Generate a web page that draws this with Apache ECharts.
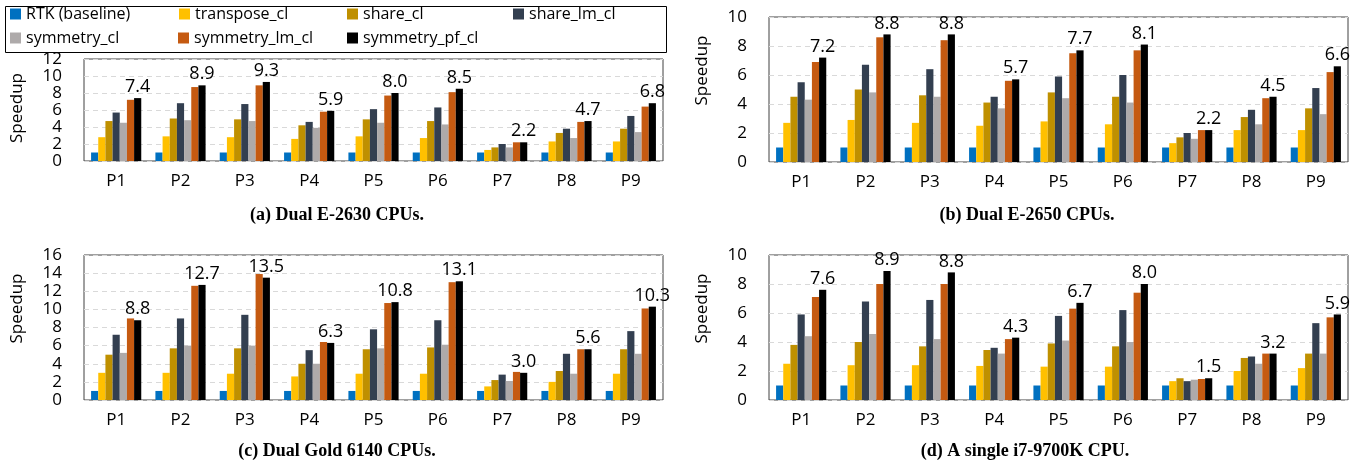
<!DOCTYPE html>
<html>
<head>
<meta charset="utf-8">
<title>Speedup</title>
<script src="https://cdn.jsdelivr.net/npm/echarts@6/dist/echarts.min.js"></script>
<style>
  html, body { margin: 0; padding: 0; background: #fff; }
  #chart { width: 1372px; height: 471px; }
</style>
</head>
<body>
<div id="chart"></div>
<script>
const categories = ['P1', 'P2', 'P3', 'P4', 'P5', 'P6', 'P7', 'P8', 'P9'];
const seriesNames = ['RTK (baseline)', 'transpose_cl', 'share_cl', 'share_lm_cl', 'symmetry_cl', 'symmetry_lm_cl', 'symmetry_pf_cl'];
const colors = ['#0070c0', '#ffc000', '#bf9000', '#333f50', '#aeaaaa', '#c55a11', '#000000'];

// rows follow seriesNames order
// (a) Dual E-2630
const speedupE2630 = [
  [1, 1, 1, 1, 1, 1, 1, 1, 1],
  [2.8, 2.9, 2.8, 2.6, 2.9, 2.7, 1.3, 2.3, 2.3],
  [4.7, 5.0, 4.9, 4.2, 4.9, 4.7, 1.6, 3.3, 3.8],
  [5.7, 6.8, 6.7, 4.6, 6.1, 6.3, 2.0, 3.8, 5.3],
  [4.5, 4.8, 4.7, 3.9, 4.5, 4.3, 1.6, 2.7, 3.4],
  [7.2, 8.7, 8.9, 5.8, 7.7, 8.1, 2.2, 4.6, 6.4],
  [7.4, 8.9, 9.3, 5.9, 8.0, 8.5, 2.2, 4.7, 6.8]
];
// (b) Dual E-2650
const speedupE2650 = [
  [1, 1, 1, 1, 1, 1, 1, 1, 1],
  [2.7, 2.9, 2.7, 2.5, 2.8, 2.6, 1.3, 2.2, 2.2],
  [4.5, 5.0, 4.6, 4.1, 4.8, 4.5, 1.7, 3.1, 3.7],
  [5.5, 6.7, 6.4, 4.5, 5.9, 6.0, 2.0, 3.6, 5.1],
  [4.3, 4.8, 4.5, 3.7, 4.4, 4.1, 1.6, 2.6, 3.3],
  [6.9, 8.6, 8.4, 5.6, 7.5, 7.7, 2.2, 4.4, 6.2],
  [7.2, 8.8, 8.8, 5.7, 7.7, 8.1, 2.2, 4.5, 6.6]
];
// (c) Dual Gold 6140
const speedupGold6140 = [
  [1, 1, 1, 1, 1, 1, 1, 1, 1],
  [3.0, 3.0, 2.9, 2.6, 2.9, 2.9, 1.5, 2.0, 2.9],
  [5.0, 5.7, 5.7, 4.0, 5.6, 5.8, 2.2, 3.2, 5.6],
  [7.2, 9.0, 9.4, 5.5, 7.8, 8.8, 2.8, 5.1, 7.6],
  [5.2, 6.0, 6.0, 4.0, 5.7, 6.1, 2.1, 2.9, 5.1],
  [9.0, 12.6, 13.9, 6.4, 10.7, 13.0, 3.1, 5.6, 10.1],
  [8.8, 12.7, 13.5, 6.3, 10.8, 13.1, 3.0, 5.6, 10.3]
];
// (d) single i7-9700K
const speedupI7 = [
  [1, 1, 1, 1, 1, 1, 1, 1, 1],
  [2.5, 2.4, 2.4, 2.35, 2.3, 2.3, 1.3, 2.0, 2.2],
  [3.8, 4.0, 3.7, 3.45, 3.9, 3.7, 1.5, 2.9, 3.2],
  [5.9, 6.8, 6.9, 3.6, 5.8, 6.2, 1.3, 3.0, 5.3],
  [4.4, 4.55, 4.2, 3.2, 4.1, 4.0, 1.4, 2.5, 3.2],
  [7.1, 8.0, 8.0, 4.2, 6.3, 7.4, 1.45, 3.2, 5.7],
  [7.6, 8.9, 8.8, 4.3, 6.7, 8.0, 1.5, 3.2, 5.9]
];

const yMax = [12, 10, 16, 10];
const captions = ['(a) Dual E-2630 CPUs.', '(b) Dual E-2650 CPUs.', '(c) Dual Gold 6140 CPUs.', '(d) A single i7-9700K CPU.'];

const FONT = "'Open Sans', sans-serif";

// panel layout (px)
const panels = [
  { data: speedupE2630, grid: { left: 84, top: 59, width: 579, height: 102 }, capX: 337, capY: 206, nameShift: 4 },
  { data: speedupE2650, grid: { left: 769, top: 17, width: 579, height: 145 }, capX: 1027, capY: 206, nameShift: 38 },
  { data: speedupGold6140, grid: { left: 84, top: 255, width: 579, height: 145 }, capX: 337, capY: 442, nameShift: 38 },
  { data: speedupI7, grid: { left: 769, top: 255, width: 579, height: 145 }, capX: 1025, capY: 442, nameShift: 38 }
];

const chart = echarts.init(document.getElementById('chart'));

const grids = [], xAxes = [], yAxes = [], series = [], titles = [];
panels.forEach((p, i) => {
  grids.push(Object.assign({ show: true, borderColor: '#404040', borderWidth: 1, backgroundColor: '#fff' }, p.grid));
  xAxes.push({
    type: 'category',
    gridIndex: i,
    data: categories,
    axisLine: { show: false },
    axisTick: { show: false },
    axisLabel: { margin: 12, fontSize: 17, color: '#000', fontFamily: FONT }
  });
  yAxes.push({
    type: 'value',
    gridIndex: i,
    min: 0,
    max: yMax[i],
    interval: 2,
    name: 'Speedup',
    nameLocation: 'middle',
    nameGap: 58,
    nameTextStyle: { fontSize: 17, color: '#000', fontFamily: FONT, padding: [0, 0, 0, p.nameShift] },
    axisLine: { show: false },
    axisTick: { show: false },
    axisLabel: { margin: 22, fontSize: 17, color: '#000', fontFamily: FONT },
    splitLine: { lineStyle: { color: '#d9d9d9', type: [5, 4], width: 1 } }
  });
  p.data.forEach((vals, k) => {
    const s = {
      name: seriesNames[k],
      type: 'bar',
      xAxisIndex: i,
      yAxisIndex: i,
      data: vals,
      barGap: '0%',
      barCategoryGap: '22%',
      itemStyle: { color: colors[k] }
    };
    // only the last series gets the value on top
    if (k === seriesNames.length - 1) {
      s.label = {
        show: true,
        position: 'top',
        distance: 2,
        fontSize: 18,
        color: '#000',
        fontFamily: FONT,
        formatter: v => v.value.toFixed(1)
      };
    }
    series.push(s);
  });
  titles.push({
    text: captions[i],
    left: p.capX,
    top: p.capY,
    textAlign: 'center',
    padding: 0,
    textStyle: { fontSize: 18, fontWeight: 'bold', color: '#000', fontFamily: "'Liberation Serif', serif" }
  });
});

// legend laid out as a 4 x 2 table like the original
const legendPos = [[10, 6], [179, 6], [347, 6], [513, 6], [10, 30], [178, 30], [347, 30]];
const legends = seriesNames.map((n, k) => ({
  data: [n],
  left: legendPos[k][0],
  top: legendPos[k][1],
  padding: 0,
  icon: 'rect',
  itemWidth: 11,
  itemHeight: 11,
  textStyle: { fontSize: 16, color: '#000', fontFamily: FONT }
}));

const option = {
  animation: false,
  backgroundColor: '#fff',
  title: titles,
  legend: legends,
  grid: grids,
  xAxis: xAxes,
  yAxis: yAxes,
  series: series,
  graphic: [{
    type: 'rect',
    left: 3,
    top: 4,
    shape: { width: 661, height: 46 },
    style: { fill: 'none', stroke: '#000', lineWidth: 1 },
    z: -1
  }]
};
chart.setOption(option);
</script>
</body>
</html>
